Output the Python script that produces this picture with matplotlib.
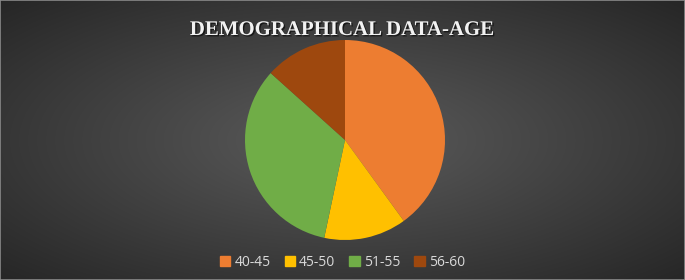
import numpy as np
import matplotlib
matplotlib.use('Agg')
import matplotlib.pyplot as plt
import matplotlib.patheffects as pe

# --- Data ---
labels = ["40-45", "45-50", "51-55", "56-60"]
values = [30, 10, 25, 10]
colors = ["#ED7D31", "#FFC000", "#70AD47", "#9E480E"]

fig = plt.figure(figsize=(6.85, 2.8), dpi=100)

# --- Radial gradient background ---
bg = fig.add_axes([0, 0, 1, 1])
yy, xx = np.mgrid[0:280, 0:685]
dx = (xx - 342) / 342.0
dy = (yy - 140) / 140.0
r = np.clip(np.sqrt(dx**2 + dy**2) / np.sqrt(2), 0, 1)
shade = 0.36 - 0.21 * r
bg.imshow(np.dstack([shade, shade, shade]), aspect='auto', extent=[0, 1, 0, 1])
bg.plot([0, 1, 1, 0, 0], [0, 0, 1, 1, 0], color="#8a8a8a", lw=1.2)
bg.set_xlim(0, 1)
bg.set_ylim(0, 1)
bg.axis('off')

# --- Pie ---
ax = fig.add_axes([(345 - 100) / 685, 1 - (140 + 100) / 280, 200 / 685, 200 / 280])
ax.pie(values, colors=colors, startangle=90, counterclock=False,
       wedgeprops=dict(linewidth=0))
ax.set_xlim(-1, 1)
ax.set_ylim(-1, 1)
ax.set_aspect('equal')

# --- Title ---
fig.text(0.5, 1 - 30 / 280, "DEMOGRAPHICAL DATA-AGE", ha='center', va='center',
         color='#f2f2f2', fontsize=15, fontweight='bold', family='Liberation Serif',
         path_effects=[pe.withSimplePatchShadow(offset=(1, -1), shadow_rgbFace='black', alpha=0.6)])

# --- Legend ---
handles = [plt.Rectangle((0, 0), 1, 1, color=c) for c in colors]
fig.legend(handles, labels, loc='center', bbox_to_anchor=(0.5, 1 - 262 / 280), ncol=4,
           frameon=False, labelcolor='#d9d9d9',
           handlelength=0.75, handleheight=0.75, handletextpad=0.3, columnspacing=1.0,
           prop={'family': 'Open Sans', 'size': 10})

fig.savefig("out.png", dpi=100)
